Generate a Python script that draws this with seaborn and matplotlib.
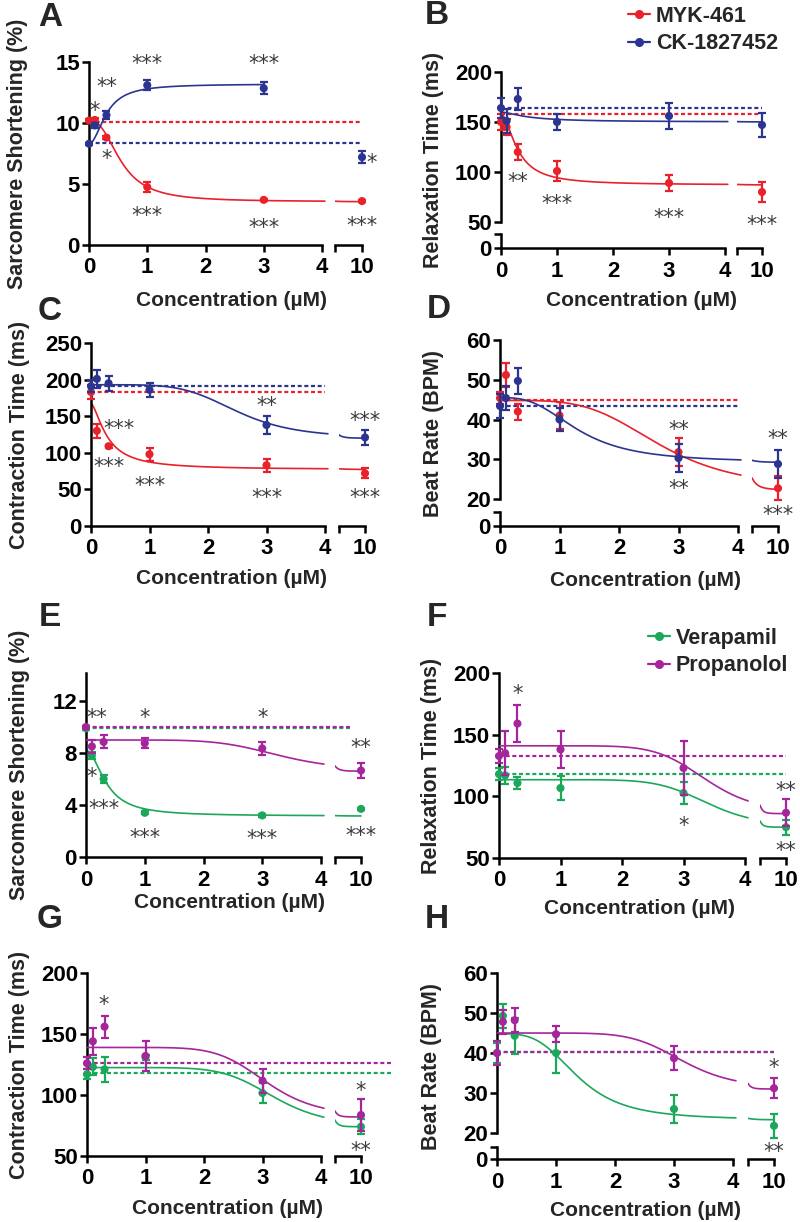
import numpy as np
import pandas as pd
import matplotlib
matplotlib.use("Agg")
import matplotlib.pyplot as plt
import matplotlib.transforms as mtransforms
import seaborn as sns
from matplotlib.lines import Line2D

# concentrations (uM) used for every series
conc = [0, 0.1, 0.3, 1, 3, 10]

RED = "#e8212b"
BLUE = "#2b3590"
GREEN = "#1ca85a"
PURPLE = "#a5259c"

# fit parameters: [value at 0, plateau, EC50, hill slope]
# A - sarcomere shortening
a_myk = [10.2, 10.25, 8.8, 4.75, 3.7, 3.6]
a_myk_err = [0.15, 0.15, 0.1, 0.4, 0.1, 0.1]
a_ck = [8.3, 9.8, 10.65, 13.1, 12.85, 7.2]
a_ck_err = [0.1, 0.2, 0.35, 0.4, 0.5, 0.5]
a_myk_fit = [10.2, 3.55, 0.55, 2.5]
a_ck_fit = [8.3, 13.2, 0.3, 2.0]
a_base = [10.1, 8.35]
a_stars = [(1, 15.2, "***"), (3, 15.2, "***"), (0.31, 13.3, "**"), (0.1, 11.3, "*"),
           (0.31, 7.4, "*"), (1, 2.7, "***"), (3, 1.7, "***"), (10, 1.9, "***"), (12.1, 7.1, "*")]

# B - relaxation time
b_myk = [150, 145, 120, 101, 89, 80]
b_myk_err = [8, 8, 8, 10, 8, 10]
b_ck = [164, 151, 173, 150, 156, 147]
b_ck_err = [10, 12, 11, 8, 13, 12]
b_myk_fit = [158, 87, 0.3, 1.8]
b_ck_fit = [160, 150, 0.5, 1.5]
b_base = [158, 164]
b_stars = [(0.3, 94, "**"), (1, 72, "***"), (3, 58, "***"), (10, 51, "***")]

# C - contraction time
c_myk = [183, 130, 109, 98, 83, 72]
c_myk_err = [10, 10, 2, 9, 9, 7]
c_ck = [191, 201, 195, 186, 138, 121]
c_ck_err = [8, 12, 10, 10, 12, 10]
c_myk_fit = [167, 77, 0.28, 1.6]
c_ck_fit = [193, 120, 2.5, 5.0]
c_base = [183, 191]
c_stars = [(0.47, 138, "***"), (0.3, 86, "***"), (1, 60, "***"), (3, 169, "**"),
           (3, 44, "***"), (10, 149, "***"), (10, 44, "***")]

# D - beat rate
d_myk = [45.4, 51.2, 42, 41, 31.8, 22.7]
d_myk_err = [1.5, 3, 2, 3.5, 3.5, 3]
d_ck = [43.4, 45.4, 49.7, 40, 30.3, 28.8]
d_ck_err = [3, 3, 3.3, 3, 3.5, 3.5]
d_myk_fit = [44.8, 22.3, 2.7, 4.0]
d_ck_fit = [45.5, 29.2, 1.32, 2.85]
d_base = [44.8, 43.3]
d_stars = [(3, 38.4, "**"), (3, 23.5, "**"), (10, 36.1, "**"), (10, 17.0, "***")]

# E - sarcomere shortening
e_ver = [9.9, 7.8, 6.0, 3.4, 3.2, 3.7]
e_ver_err = [0.1, 0.3, 0.3, 0.1, 0.1, 0.1]
e_pro = [10.0, 8.5, 8.85, 8.75, 8.35, 6.65]
e_pro_err = [0.1, 0.5, 0.5, 0.4, 0.5, 0.6]
e_ver_fit = [8.2, 3.15, 0.35, 2.0]
e_pro_fit = [9.0, 6.6, 3.3, 6.0]
e_base = [9.9, 10.0]
e_stars = [(0.18, 11.0, "**"), (1, 11.0, "*"), (3, 11.0, "*"), (10, 8.7, "**"), (0.1, 6.45, "*"),
           (0.3, 4.0, "***"), (1, 1.8, "***"), (3, 1.7, "***"), (10, 1.9, "***")]

# F - relaxation time
f_ver = [118, 117, 110.8, 106.7, 102.7, 75]
f_ver_err = [5, 7, 5, 10, 9, 6]
f_pro = [132.7, 135, 159, 138, 123, 86.7]
f_pro_err = [6, 18, 15, 15, 22, 11]
f_ver_fit = [113.5, 75, 3.4, 8.0]
f_pro_fit = [141, 86, 3.37, 8.0]
f_base = [118, 132.7]
f_stars = [(0.31, 186, "*"), (3, 79, "*"), (10, 107.6, "**"), (10, 59, "**")]

# G - contraction time
g_ver = [117, 123, 121, 131, 101.6, 74]
g_ver_err = [4, 7, 10, 2, 8, 6]
g_pro = [126, 144, 156, 132, 111.7, 83.6]
g_pro_err = [5, 11, 9, 12, 10, 13]
g_ver_fit = [122.5, 74, 3.2, 7.0]
g_pro_fit = [139, 82, 3.07, 7.0]
g_base = [118, 126]
g_stars = [(0.29, 177, "*"), (10, 106.5, "*"), (10, 57.4, "**")]

# H - beat rate
h_ver = [40, 49.3, 44.3, 40, 26, 21.8]
h_ver_err = [2.5, 3, 4.5, 5, 3.5, 3]
h_pro = [40, 47.8, 48.2, 44.7, 38.7, 31.2]
h_pro_err = [3, 3, 3, 2, 3, 2.5]
h_ver_fit = [44.8, 23.3, 1.375, 3.5]
h_pro_fit = [45, 31, 3.15, 7.0]
h_base = [40.2, 40.3]
h_stars = [(10, 37.2, "*"), (10, 16.25, "**")]

W, H = 800, 1222
XL_MAX, XR0, XR_MAX = 4.1, 4.3, 10.25


def hill(x, p):
    start, end, ec, h = p
    return end + (start - end) / (1 + (x / ec) ** h)


def series(name, color, mean, err, fit, base, dash_end, fit_max=4.05, right_fit=True):
    return dict(name=name, color=color, mean=mean, err=err, fit=fit, base=base,
                dash_end=dash_end, fit_max=fit_max, right_fit=right_fit)


panels = [
    dict(letter="A", letter_xy=(50, 18), ylabel="Sarcomere Shortening (%)", ylab_x=18,
         xlab_xy=(231, 300), ylim=(0, 15), yticks=[0, 5, 10, 15],
         geom=dict(x0=89, x4=322, xb0=335, x10=362, ytop=62, ybot=245),
         series=[series("MYK-461", RED, a_myk, a_myk_err, a_myk_fit, a_base[0], 10),
                 series("CK-1827452", BLUE, a_ck, a_ck_err, a_ck_fit, a_base[1], 10,
                        fit_max=3, right_fit=False)],
         stars=a_stars),
    dict(letter="B", letter_xy=(437, 16), ylabel="Relaxation Time (ms)", ylab_x=433,
         xlab_xy=(641, 301), ylim=(50, 200), yticks=[50, 100, 150, 200],
         geom=dict(x0=501, x4=725, xb0=737, x10=762, ytop=72, ybot=222, lowtop=234, lowzero=248),
         series=[series("MYK-461", RED, b_myk, b_myk_err, b_myk_fit, b_base[0], 10),
                 series("CK-1827452", BLUE, b_ck, b_ck_err, b_ck_fit, b_base[1], 10)],
         stars=b_stars),
    dict(letter="C", letter_xy=(50, 312), ylabel="Contraction Time (ms)", ylab_x=20,
         xlab_xy=(231, 578), ylim=(0, 250), yticks=[0, 50, 100, 150, 200, 250],
         geom=dict(x0=91, x4=325, xb0=339, x10=365, ytop=343, ybot=526),
         series=[series("MYK-461", RED, c_myk, c_myk_err, c_myk_fit, c_base[0], 4),
                 series("CK-1827452", BLUE, c_ck, c_ck_err, c_ck_fit, c_base[1], 4)],
         stars=c_stars),
    dict(letter="D", letter_xy=(439, 309), ylabel="Beat Rate (BPM)", ylab_x=433,
         xlab_xy=(646, 580), ylim=(20, 60), yticks=[20, 30, 40, 50, 60],
         geom=dict(x0=500, x4=738, xb0=752, x10=778, ytop=340, ybot=499, lowtop=512, lowzero=526),
         series=[series("MYK-461", RED, d_myk, d_myk_err, d_myk_fit, d_base[0], 4),
                 series("CK-1827452", BLUE, d_ck, d_ck_err, d_ck_fit, d_base[1], 4)],
         stars=d_stars),
    dict(letter="E", letter_xy=(50, 617), ylabel="Sarcomere Shortening (%)", ylab_x=20,
         xlab_xy=(229, 903), ylim=(0, 14.15), yticks=[0, 4, 8, 12],
         geom=dict(x0=86, x4=321, xb0=335, x10=361, ytop=673, ybot=857),
         series=[series("Verapamil", GREEN, e_ver, e_ver_err, e_ver_fit, e_base[0], 7.5),
                 series("Propanolol", PURPLE, e_pro, e_pro_err, e_pro_fit, e_base[1], 7.5)],
         stars=e_stars),
    dict(letter="F", letter_xy=(437, 617), ylabel="Relaxation Time (ms)", ylab_x=432,
         xlab_xy=(640, 908), ylim=(50, 200), yticks=[50, 100, 150, 200],
         geom=dict(x0=499, x4=745, xb0=760, x10=786, ytop=673, ybot=858),
         series=[series("Verapamil", GREEN, f_ver, f_ver_err, f_ver_fit, f_base[0], 10),
                 series("Propanolol", PURPLE, f_pro, f_pro_err, f_pro_fit, f_base[1], 10)],
         stars=f_stars),
    dict(letter="G", letter_xy=(50, 920), ylabel="Contraction Time (ms)", ylab_x=20,
         xlab_xy=(228, 1208), ylim=(50, 200), yticks=[50, 100, 150, 200],
         geom=dict(x0=87, x4=321, xb0=335, x10=361, ytop=973, ybot=1156),
         series=[series("Verapamil", GREEN, g_ver, g_ver_err, g_ver_fit, g_base[0], 17),
                 series("Propanolol", PURPLE, g_pro, g_pro_err, g_pro_fit, g_base[1], 17)],
         stars=g_stars),
    dict(letter="H", letter_xy=(437, 920), ylabel="Beat Rate (BPM)", ylab_x=432,
         xlab_xy=(646, 1210), ylim=(20, 60), yticks=[20, 30, 40, 50, 60],
         geom=dict(x0=497, x4=733, xb0=748, x10=774, ytop=973, ybot=1133, lowtop=1147, lowzero=1159),
         series=[series("Verapamil", GREEN, h_ver, h_ver_err, h_ver_fit, h_base[0], 10),
                 series("Propanolol", PURPLE, h_pro, h_pro_err, h_pro_fit, h_base[1], 10)],
         stars=h_stars),
]

sns.set_theme(style="ticks")
plt.rcParams["font.family"] = ["Liberation Sans", "DejaVu Sans"]
plt.rcParams.update({
    "font.weight": "bold",
    "axes.edgecolor": "black",
    "axes.linewidth": 1.8,
    "xtick.color": "black",
    "ytick.color": "black",
    "xtick.major.width": 1.8,
    "ytick.major.width": 1.8,
    "xtick.major.size": 5,
    "ytick.major.size": 5,
    "xtick.major.pad": 4,
    "ytick.major.pad": 1.5,
    "xtick.labelsize": 16,
    "ytick.labelsize": 16,
})

fig = plt.figure(figsize=(W / 100, H / 100), dpi=100)


def px_axes(l, t, r, b):
    ax = fig.add_axes([l / W, 1 - b / H, (r - l) / W, (b - t) / H])
    ax.set_facecolor("none")
    for s in ("top", "right"):
        ax.spines[s].set_visible(False)
    return ax


def hide_x(ax):
    ax.spines["bottom"].set_visible(False)
    ax.tick_params(bottom=False, labelbottom=False)


def hide_y(ax):
    ax.spines["left"].set_visible(False)
    ax.tick_params(left=False, labelleft=False)


for p in panels:
    g = p["geom"]
    xl_r = g["x0"] + (g["x4"] - g["x0"]) * XL_MAX / 4
    xr_r = g["xb0"] + (g["x10"] - g["xb0"]) * (XR_MAX - XR0) / (10 - XR0)
    ax_l = px_axes(g["x0"], g["ytop"], xl_r, g["ybot"])
    ax_r = px_axes(g["xb0"], g["ytop"], xr_r, g["ybot"])
    for ax in (ax_l, ax_r):
        ax.set_ylim(*p["ylim"])
    ax_l.set_xlim(0, XL_MAX)
    ax_r.set_xlim(XR0, XR_MAX)
    ax_l.set_yticks(p["yticks"])
    hide_y(ax_r)

    if "lowtop" in g:
        lo_l = px_axes(g["x0"], g["lowtop"], xl_r, g["lowzero"])
        lo_r = px_axes(g["xb0"], g["lowtop"], xr_r, g["lowzero"])
        for ax in (lo_l, lo_r):
            ax.set_ylim(0, 1)
        lo_l.set_xlim(0, XL_MAX)
        lo_r.set_xlim(XR0, XR_MAX)
        lo_l.set_yticks([0, 1])
        lo_l.set_yticklabels(["0", ""])
        hide_y(lo_r)
        hide_x(ax_l)
        hide_x(ax_r)
        xa_l, xa_r = lo_l, lo_r
        y_bottom_px = g["lowzero"]
    else:
        xa_l, xa_r = ax_l, ax_r
        y_bottom_px = g["ybot"]

    xa_l.set_xticks([0, 1, 2, 3, 4])
    xa_l.spines["bottom"].set_bounds(0, 4)
    xa_r.set_xticks([XR0, 10])
    xa_r.set_xticklabels(["", "10"])
    xa_r.spines["bottom"].set_bounds(XR0, 10)

    x = np.array(conc)
    for k, s in enumerate(p["series"]):
        c = s["color"]
        z = 2 + 4 * k
        # vehicle baseline
        if s["dash_end"] <= XL_MAX:
            ax_l.plot([0, s["dash_end"]], [s["base"], s["base"]], color=c, lw=1.6,
                      ls=(0, (1.8, 1.2)), zorder=1, clip_on=False)
        else:
            xd = ax_r.transData.transform((s["dash_end"], s["base"]))[0]
            frac = ax_l.transAxes.inverted().transform((xd, 0))[0]
            ax_l.axhline(s["base"], xmin=0, xmax=frac, color=c, lw=1.6,
                         ls=(0, (1.8, 1.2)), zorder=1, clip_on=False)

        mean = np.array(s["mean"])
        err = np.array(s["err"])
        for ax, keep in ((ax_l, x <= XL_MAX), (ax_r, x >= XR0)):
            df = pd.DataFrame({"conc": x[keep], "mean": mean[keep], "err": err[keep]})
            ax.errorbar(df["conc"], df["mean"], yerr=df["err"], fmt="none", ecolor=c,
                        elinewidth=1.6, capsize=3.2, capthick=1.6, zorder=z + 1, clip_on=False)
            sns.scatterplot(data=df, x="conc", y="mean", ax=ax, color=c, s=34,
                            edgecolor="none", zorder=z + 2, clip_on=False, legend=False)

        xf = np.linspace(0, s["fit_max"], 200)
        sns.lineplot(x=xf, y=hill(xf, s["fit"]), ax=ax_l, color=c, lw=1.2, zorder=z, legend=False)
        if s["right_fit"]:
            xf = np.linspace(XR0, 10, 120)
            sns.lineplot(x=xf, y=hill(xf, s["fit"]), ax=ax_r, color=c, lw=1.2, zorder=z,
                         legend=False)

    for sx, sy, txt in p["stars"]:
        ax = ax_l if sx <= XL_MAX else ax_r
        tr = mtransforms.offset_copy(ax.transData, fig=fig, y=-3, units="points")
        ax.text(sx, sy, txt, ha="center", va="center", fontsize=15, color="#3c3c3c",
                family="DejaVu Sans", weight="normal", zorder=20, transform=tr)

    for ax in (ax_l, ax_r, xa_l, xa_r):
        ax.set_xlabel("")
        ax.set_ylabel("")

    yc = (g["ytop"] + y_bottom_px) / 2
    fig.text(p["ylab_x"] / W, 1 - yc / H, p["ylabel"], rotation=90, ha="center",
             va="center", fontsize=15.5, weight="bold")
    fig.text(p["xlab_xy"][0] / W, 1 - p["xlab_xy"][1] / H, "Concentration (µM)",
             ha="center", va="center", fontsize=15, weight="bold")
    fig.text(p["letter_xy"][0] / W, 1 - p["letter_xy"][1] / H, p["letter"],
             ha="center", va="center", fontsize=24, weight="bold")

# legends
for p, anchor in ((panels[1], (628, 30)), (panels[5], (648, 652))):
    handles = [Line2D([], [], color=s["color"], marker="o", markersize=5.5, lw=1.6)
               for s in p["series"]]
    labels = [s["name"] for s in p["series"]]
    fig.legend(handles, labels, loc="center left", frameon=False,
               bbox_to_anchor=(anchor[0] / W, 1 - anchor[1] / H),
               prop={"size": 15.5, "weight": "bold"}, handlelength=1.0,
               handletextpad=0.3, labelspacing=0.3, borderpad=0, borderaxespad=0)

fig.savefig("out.png", dpi=100)
